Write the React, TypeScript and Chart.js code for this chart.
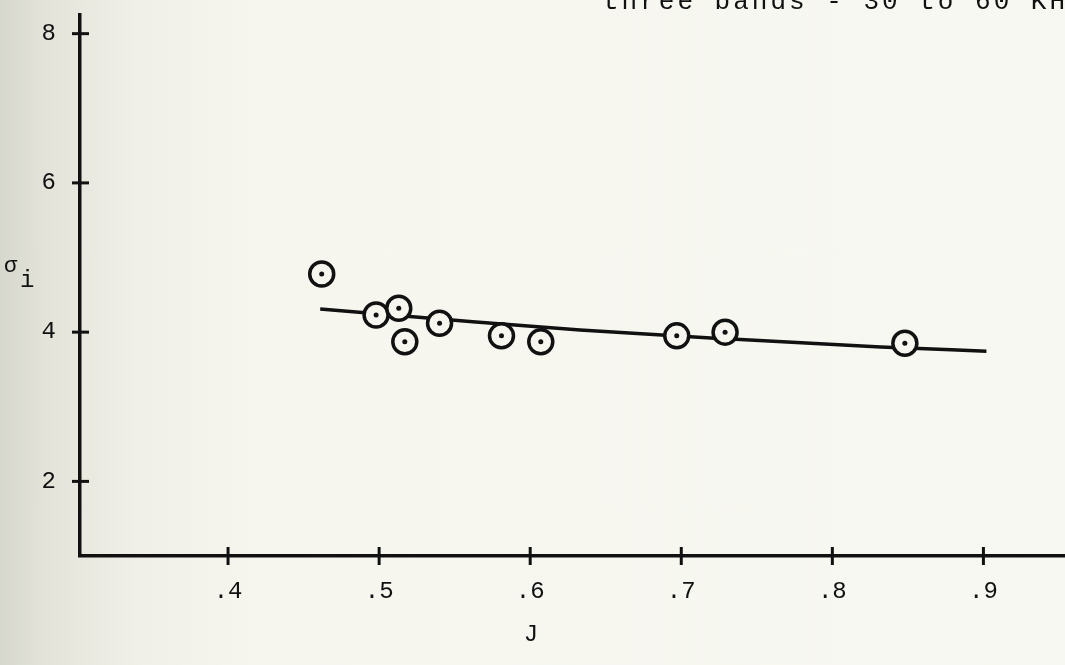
import React, { useEffect, useRef } from "react";
import { Chart, registerables } from "chart.js";

Chart.register(...registerables);

const titleText = "three bands - 30 to 60 KHz";
const xAxisLabel = "J";
const yAxisSymbol = "σ";
const yAxisSub = "i";

const xTicks = [0.4, 0.5, 0.6, 0.7, 0.8, 0.9];
const yTicks = [2, 4, 6, 8];

const pointJ = [0.462, 0.498, 0.513, 0.517, 0.54, 0.581, 0.607, 0.697, 0.729, 0.848];
const pointSigma = [4.78, 4.23, 4.32, 3.87, 4.12, 3.95, 3.87, 3.95, 4.0, 3.85];

const fitJ = [0.461, 0.55, 0.633, 0.73, 0.832, 0.902];
const fitSigma = [4.31, 4.16, 4.03, 3.91, 3.8, 3.745];

const INK = "#111111";
const PAPER = "#f6f6ef";
const MONO = '"Liberation Mono", "DejaVu Sans Mono", monospace';

const decorPlugin = {
  id: "decor",
  afterDraw(chart: any) {
    const ctx = chart.ctx;
    const xs = chart.scales.x;
    const ys = chart.scales.y;
    ctx.save();
    ctx.strokeStyle = INK;
    ctx.lineWidth = 3;
    // crossing tick marks
    yTicks.forEach((v) => {
      const py = ys.getPixelForValue(v);
      ctx.beginPath();
      ctx.moveTo(xs.left - 8, py);
      ctx.lineTo(xs.left + 9, py);
      ctx.stroke();
    });
    xTicks.forEach((v) => {
      const px = xs.getPixelForValue(v);
      ctx.beginPath();
      ctx.moveTo(px, ys.bottom - 9);
      ctx.lineTo(px, ys.bottom + 9);
      ctx.stroke();
    });
    // title (cut off at top like the scan)
    ctx.fillStyle = INK;
    ctx.font = "26px " + MONO;
    try {
      (ctx as any).letterSpacing = "3px";
    } catch (e) {}
    ctx.textBaseline = "alphabetic";
    ctx.textAlign = "left";
    ctx.fillText(titleText, 603, 9);
    try {
      (ctx as any).letterSpacing = "0px";
    } catch (e) {}
    // x axis title
    ctx.font = "24px " + MONO;
    ctx.textAlign = "center";
    ctx.fillText(xAxisLabel, 531, 641);
    // y axis title
    ctx.textAlign = "left";
    ctx.font = "22px " + MONO;
    ctx.fillText(yAxisSymbol, 4, 272);
    ctx.font = "24px " + MONO;
    ctx.fillText(yAxisSub, 20, 287);
    ctx.restore();
  },
};

export default function App() {
  const ref = useRef<HTMLCanvasElement | null>(null);

  useEffect(() => {
    if (!ref.current) return;
    const pts = pointJ.map((x, i) => ({ x, y: pointSigma[i] }));
    const fit = fitJ.map((x, i) => ({ x, y: fitSigma[i] }));
    const chart = new Chart(ref.current, {
      type: "scatter",
      data: {
        datasets: [
          {
            type: "line",
            data: fit,
            borderColor: INK,
            borderWidth: 3.5,
            pointRadius: 0,
            tension: 0.4,
            cubicInterpolationMode: "monotone",
            fill: false,
            order: 3,
          } as any,
          {
            data: pts,
            pointRadius: 12,
            pointBorderWidth: 3.5,
            pointBorderColor: INK,
            pointBackgroundColor: PAPER,
            pointHoverRadius: 12,
            order: 2,
          },
          {
            data: pts,
            pointRadius: 2.5,
            pointBorderWidth: 0,
            pointBackgroundColor: INK,
            pointHoverRadius: 2.5,
            order: 1,
          },
        ],
      },
      options: {
        animation: false,
        responsive: true,
        maintainAspectRatio: false,
        layout: { autoPadding: false, padding: { top: 15, left: 0, right: 0, bottom: 0 } },
        plugins: {
          legend: { display: false },
          tooltip: { enabled: false },
          title: { display: false },
        },
        scales: {
          x: {
            type: "linear",
            min: 0.302,
            max: 0.954,
            afterBuildTicks: (s: any) => {
              s.ticks = xTicks.map((v) => ({ value: v }));
            },
            afterFit: (s: any) => {
              s.height = 109;
              s.paddingLeft = 0;
              s.paddingRight = 0;
            },
            grid: { display: true, drawOnChartArea: false, drawTicks: false },
            border: { display: true, color: INK, width: 3.5 },
            ticks: {
              padding: 21,
              color: INK,
              font: { family: MONO, size: 24 },
              callback: (v: any) => String(Number(v).toFixed(1)).replace(/^0/, ""),
            },
          },
          y: {
            type: "linear",
            min: 1,
            max: 8.25,
            afterBuildTicks: (s: any) => {
              s.ticks = yTicks.map((v) => ({ value: v }));
            },
            afterFit: (s: any) => {
              s.width = 80;
              s.paddingTop = 0;
              s.paddingBottom = 0;
            },
            grid: { display: true, drawOnChartArea: false, drawTicks: false },
            border: { display: true, color: INK, width: 3.5 },
            ticks: {
              padding: 24,
              color: INK,
              font: { family: MONO, size: 24 },
              callback: (v: any) => String(v),
            },
          },
        },
      },
      plugins: [decorPlugin],
    });
    return () => chart.destroy();
  }, []);

  return (
    <div
      style={{
        position: "fixed",
        left: 0,
        top: 0,
        width: 1065,
        height: 665,
        background:
          "linear-gradient(to right, #d6d7cd 0px, #e4e4db 50px, #f0f0e8 140px, #f6f6ef 260px, #f8f8f2 100%)",
      }}
    >
      <canvas ref={ref} />
    </div>
  );
}
